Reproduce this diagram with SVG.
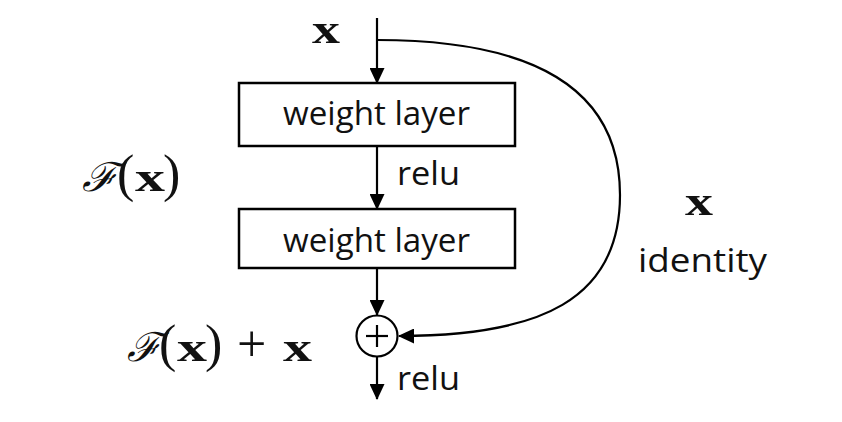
<svg xmlns="http://www.w3.org/2000/svg" width="842" height="422" viewBox="0 0 842 422">
<defs>
<marker id="arr" viewBox="0 0 16 15" refX="15" refY="7.5" markerWidth="16" markerHeight="15" markerUnits="userSpaceOnUse" orient="auto">
<path d="M0,0 L16,7.5 L0,15 Z" fill="#000"/>
</marker>
</defs>
<style>
.box{fill:#fff;stroke:#000;stroke-width:2.5}
.lbl{font-family:"Open Sans","Liberation Sans",sans-serif;font-size:32px;fill:#111}
.mb{font-family:"Liberation Serif",serif;font-weight:bold;font-size:42px;fill:#111}
.mr{font-family:"Liberation Serif",serif;font-size:52px;fill:#111}
.cal{font-family:"DejaVu Serif","Liberation Serif",serif;font-style:italic;font-size:40px;fill:#111}
.ln{fill:none;stroke:#000;stroke-width:2.2}
</style>
<rect width="842" height="422" fill="#fff"/>
<g id="connectors">
<line class="ln" x1="377" y1="18" x2="377" y2="83" marker-end="url(#arr)"/>
<line class="ln" x1="377" y1="146" x2="377" y2="209" marker-end="url(#arr)"/>
<line class="ln" x1="377" y1="268" x2="377" y2="315" marker-end="url(#arr)"/>
<line class="ln" x1="377" y1="357" x2="377" y2="399" marker-end="url(#arr)"/>
<path class="ln" d="M377,40 C520,40 620,80 620,195 C620,300 540,336 399,336" marker-end="url(#arr)"/>
</g>
<g id="input-x"><text class="mb" x="312" y="43" textLength="28" lengthAdjust="spacingAndGlyphs">x</text></g>
<g id="weight-layer-1">
<rect class="box" x="239" y="83" width="276" height="63"/>
<text class="lbl" x="283" y="125" textLength="187" lengthAdjust="spacingAndGlyphs">weight layer</text>
</g>
<g id="relu-1"><text class="lbl" x="397" y="185" textLength="63" lengthAdjust="spacingAndGlyphs">relu</text></g>
<g id="weight-layer-2">
<rect class="box" x="239" y="209" width="276" height="59"/>
<text class="lbl" x="283" y="252" textLength="187" lengthAdjust="spacingAndGlyphs">weight layer</text>
</g>
<g id="Fx-label">
<text class="cal" x="82" y="191" textLength="36" lengthAdjust="spacingAndGlyphs">ℱ</text>
<text class="mr" x="117" y="191">(</text>
<text class="mb" x="135" y="191" textLength="30" lengthAdjust="spacingAndGlyphs">x</text>
<text class="mr" x="163" y="191">)</text>
</g>
<g id="sum">
<circle cx="377" cy="336" r="20.5" fill="#fff" stroke="#000" stroke-width="2.2"/>
<line x1="366" y1="336" x2="388" y2="336" stroke="#000" stroke-width="2.2"/>
<line x1="377" y1="325" x2="377" y2="347" stroke="#000" stroke-width="2.2"/>
</g>
<g id="Fx-plus-x-label">
<text class="cal" x="127" y="361" textLength="34" lengthAdjust="spacingAndGlyphs">ℱ</text>
<text class="mr" x="159" y="361">(</text>
<text class="mb" x="177" y="361" textLength="30" lengthAdjust="spacingAndGlyphs">x</text>
<text class="mr" x="205" y="361">)</text>
<text class="mr" x="237" y="361">+</text>
<text class="mb" x="283" y="361" textLength="29" lengthAdjust="spacingAndGlyphs">x</text>
</g>
<g id="relu-2"><text class="lbl" x="397" y="390" textLength="63" lengthAdjust="spacingAndGlyphs">relu</text></g>
<g id="identity-label">
<text class="mb" x="685" y="215" textLength="28" lengthAdjust="spacingAndGlyphs">x</text>
<text class="lbl" x="638" y="272" textLength="129" lengthAdjust="spacingAndGlyphs">identity</text>
</g>
</svg>
